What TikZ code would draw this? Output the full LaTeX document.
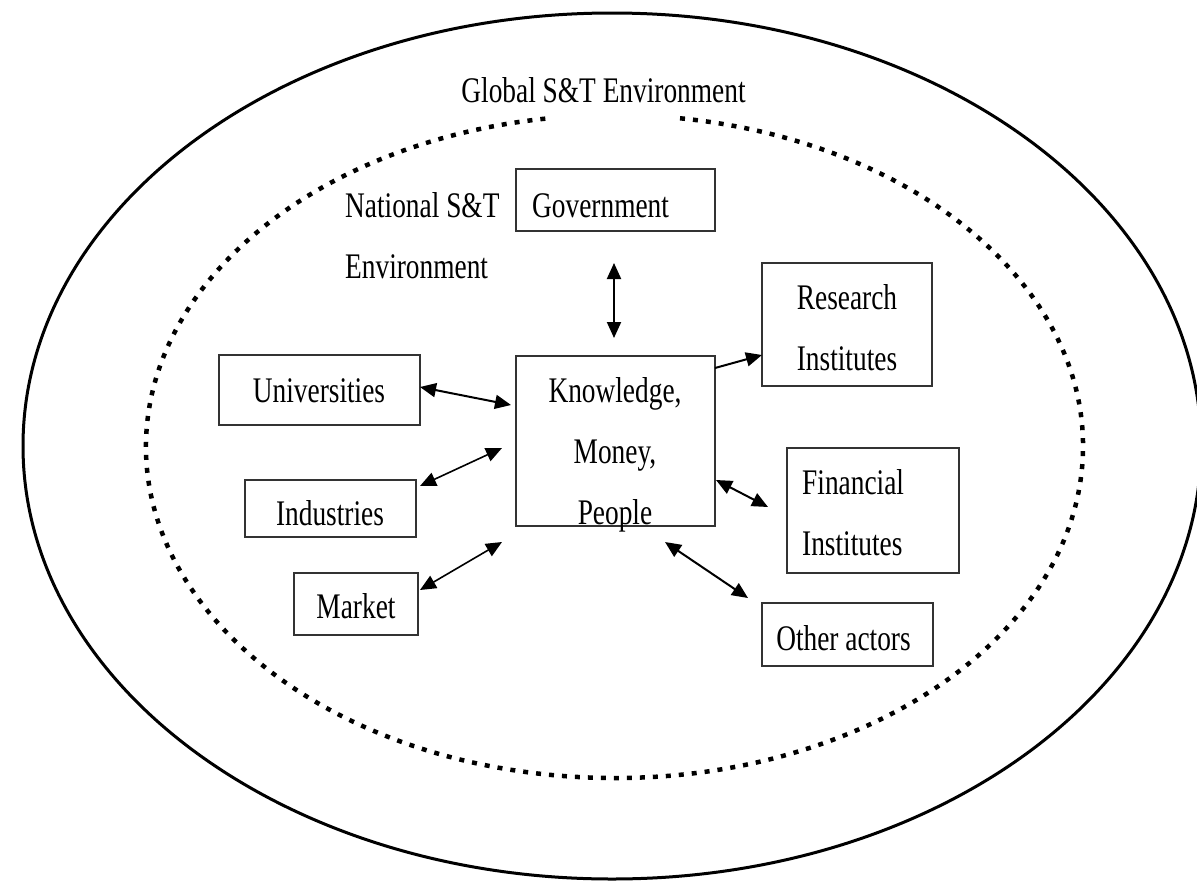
\documentclass[tikz,border=0pt]{standalone}
\usepackage{fontspec}
\setmainfont{Liberation Serif}[FakeStretch=0.76]
\usetikzlibrary{arrows.meta}
\begin{document}
\begin{tikzpicture}[x=1pt,y=-1pt,
  box/.style={draw=black!80, line width=2.2pt, inner sep=0pt, rectangle},
  txt/.style={inner sep=0pt, font=\fontsize{36}{61}\selectfont},
  tip/.style={Triangle[length=16pt,width=14pt]},
  link/.style={line width=2pt, {Triangle[length=16pt,width=14pt]}-{Triangle[length=16pt,width=14pt]}},
  oneway/.style={line width=2pt, -{Triangle[length=16pt,width=14pt]}},
  dotline/.style={line width=4.5pt, dash pattern=on 5pt off 8pt},
]
\useasboundingbox (0,0) rectangle (1197,881);

% environments
\draw[line width=3pt] (612,446) ellipse[x radius=589, y radius=433];
\draw[dotline] ([shift={(278.04:468.5 and 331.5)}]614.5,446.5)
  arc[start angle=278.04, end angle=621.84, x radius=468.5, y radius=331.5];

% boxes
\node[box, minimum width=199, minimum height=62]  (gov)  at (615.5,200)   {};
\node[box, minimum width=170, minimum height=123] (res)  at (847,324.5)   {};
\node[box, minimum width=201, minimum height=70]  (uni)  at (319.5,390)   {};
\node[box, minimum width=199, minimum height=170] (know) at (615.5,441)   {};
\node[box, minimum width=171, minimum height=57]  (ind)  at (330.5,508.5) {};
\node[box, minimum width=172, minimum height=125] (fin)  at (873,510.5)   {};
\node[box, minimum width=124, minimum height=62]  (mkt)  at (356,604)     {};
\node[box, minimum width=171, minimum height=63]  (oth)  at (847.5,634.5) {};

% texts
\node[txt, anchor=base] (global) at (603.5,102) {Global S\&T Environment};
\node[txt, anchor=north west, align=left] (national) at (345,192.4) {National S\&T\\Environment};
\node[txt, anchor=base west] (govt) at (532,217) {Government};
\node[txt, anchor=north, align=center] (rest) at (847,284.4) {Research\\Institutes};
\node[txt, anchor=base] (unit) at (319,402) {Universities};
\node[txt, anchor=north, align=center] (knowt) at (615,377.4) {Knowledge,\\Money,\\People};
\node[txt, anchor=base] (indt) at (330,525) {Industries};
\node[txt, anchor=north west, align=left] (fint) at (802,469.4) {Financial\\Institutes};
\node[txt, anchor=base] (mktt) at (356,618) {Market};
\node[txt, anchor=base] (otht) at (843.5,650) {Other actors};

% connector ends
\coordinate (g1) at (614,263);   \coordinate (g2) at (614,338);
\coordinate (r1) at (715,368);   \coordinate (r2) at (762,355);
\coordinate (u1) at (420,387);   \coordinate (u2) at (511,405);
\coordinate (i1) at (420,486);   \coordinate (i2) at (502,448);
\coordinate (m1) at (420,590);   \coordinate (m2) at (502,542);
\coordinate (f1) at (716,480);   \coordinate (f2) at (768,507);
\coordinate (o1) at (665,542);   \coordinate (o2) at (748,598);

% connectors
\draw[link] (g1) -- (g2);
\draw[oneway] (r1) -- (r2);
\draw[link] (u1) -- (u2);
\draw[link, line width=1.6pt] (i1) -- (i2);
\draw[link, line width=1.6pt] (m1) -- (m2);
\draw[link] (f1) -- (f2);
\draw[link] (o1) -- (o2);
\end{tikzpicture}
\end{document}
